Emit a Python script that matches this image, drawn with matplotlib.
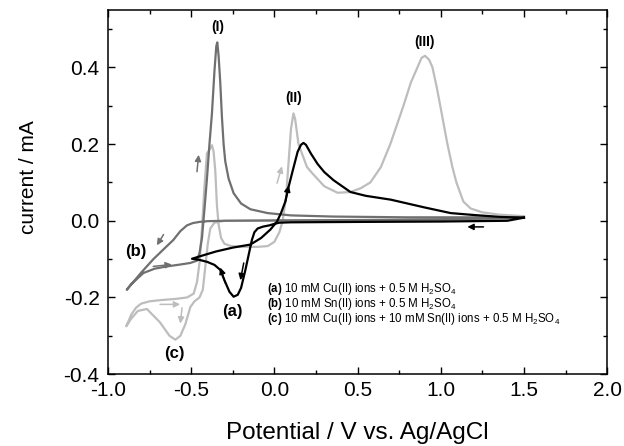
import matplotlib
matplotlib.use("Agg")
import matplotlib.pyplot as plt
from matplotlib.ticker import MultipleLocator

plt.rcParams["font.family"] = ["Liberation Sans", "DejaVu Sans"]
plt.rcParams["mathtext.fontset"] = "custom"
plt.rcParams["mathtext.rm"] = "Liberation Sans"
plt.rcParams["mathtext.bf"] = "Liberation Sans:bold"
plt.rcParams["axes.unicode_minus"] = False

# (a) Cu(II) only -- black loop, forward sweep from 1.5 V then back
cu_x = [1.5, 1.4, 1.0, 0.5, 0.1, 0.03, 0.0, -0.03, -0.066, -0.1, -0.12, -0.135,
        -0.15, -0.175, -0.2, -0.22, -0.245, -0.27, -0.3, -0.325, -0.36, -0.405,
        -0.45, -0.495,
        -0.45, -0.35, -0.25, -0.144, -0.08, -0.024, 0.016, 0.04, 0.066, 0.086,
        0.11, 0.14, 0.16, 0.175, 0.19, 0.22, 0.26, 0.3, 0.355, 0.457, 0.55, 0.7,
        0.9, 1.06, 1.2, 1.36, 1.5]
cu_y = [0.008, 0.0, -0.002, -0.003, -0.004, -0.005, -0.008, -0.012, -0.015,
        -0.02, -0.03, -0.05, -0.08, -0.13, -0.175, -0.193, -0.198, -0.185,
        -0.155, -0.128, -0.115, -0.107, -0.102, -0.099,
        -0.093, -0.08, -0.07, -0.062, -0.045, -0.023, -0.002, 0.02, 0.05, 0.089,
        0.13, 0.18, 0.198, 0.203, 0.198, 0.175, 0.148, 0.127, 0.106, 0.075,
        0.065, 0.055, 0.035, 0.02, 0.015, 0.01, 0.008]

# (b) Sn(II) only -- dark grey loop
sn_x = [1.5, 1.0, 0.5, 0.0, -0.3, -0.4, -0.45, -0.49, -0.525, -0.565, -0.607,
        -0.66, -0.727, -0.8, -0.887,
        -0.86, -0.786, -0.72, -0.646, -0.58, -0.505, -0.465, -0.45, -0.435,
        -0.42, -0.405, -0.39, -0.375, -0.36, -0.349, -0.343, -0.335, -0.325,
        -0.315, -0.305, -0.295, -0.275, -0.245, -0.2, -0.144, -0.04, 0.1, 0.35,
        0.8, 1.2, 1.5]
sn_y = [0.008, 0.003, 0.002, 0.001, 0.0, -0.001, -0.003, -0.006, -0.012,
        -0.027, -0.05, -0.072, -0.1, -0.135, -0.18,
        -0.165, -0.136, -0.125, -0.119, -0.115, -0.11, -0.104, -0.085, -0.045,
        0.03, 0.11, 0.2, 0.28, 0.39, 0.455, 0.465, 0.43, 0.36, 0.27, 0.2,
        0.155, 0.11, 0.072, 0.045, 0.03, 0.02, 0.014, 0.011, 0.009, 0.009,
        0.009]

# (c) Cu(II) + Sn(II) -- light grey loop
cusn_x = [1.5, 1.4, 1.0, 0.5, 0.0, -0.3, -0.36, -0.385, -0.4, -0.415, -0.43,
          -0.45, -0.48, -0.505, -0.535, -0.565, -0.595, -0.63, -0.687, -0.766,
          -0.82, -0.86, -0.89,
          -0.86, -0.83, -0.8, -0.75, -0.687, -0.6, -0.525, -0.485, -0.465,
          -0.45, -0.435, -0.42, -0.405, -0.39, -0.375, -0.365, -0.355, -0.345,
          -0.335, -0.32, -0.3, -0.26, -0.19, -0.1, -0.04, 0.0, 0.03, 0.05,
          0.07, 0.085, 0.1, 0.115, 0.125, 0.145, 0.196, 0.236, 0.3, 0.38,
          0.457, 0.52, 0.577, 0.64, 0.697, 0.776, 0.82, 0.86, 0.885, 0.906,
          0.93, 0.95, 0.975, 0.997, 1.04, 1.07, 1.094, 1.136, 1.18, 1.25, 1.35,
          1.5]
cusn_y = [0.01, 0.004, 0.002, 0.001, 0.0, 0.0, -0.005, -0.02, -0.06, -0.12,
          -0.18, -0.2, -0.21, -0.225, -0.27, -0.3, -0.31, -0.3, -0.265, -0.23,
          -0.235, -0.255, -0.275,
          -0.245, -0.226, -0.216, -0.21, -0.207, -0.204, -0.2, -0.19, -0.16,
          -0.11, -0.02, 0.09, 0.176, 0.185, 0.197, 0.18, 0.13, 0.04, -0.01,
          -0.045, -0.06, -0.066, -0.068, -0.068, -0.066, -0.055, -0.03, 0.0,
          0.06, 0.15, 0.24, 0.28, 0.265, 0.2, 0.14, 0.12, 0.09, 0.073, 0.075,
          0.085, 0.1, 0.14, 0.2, 0.3, 0.36, 0.4, 0.425, 0.43, 0.42, 0.4, 0.35,
          0.3, 0.2, 0.14, 0.1, 0.05, 0.032, 0.022, 0.016, 0.012]

c_cu, c_sn, c_cusn = "#000000", "#707070", "#bdbdbd"

# sweep-direction arrows: (tail, head, colour)
arrows = [
    ((0.066, 0.05), (0.086, 0.092), c_cu),
    ((-0.184, -0.11), (-0.204, -0.155), c_cu),
    ((-0.295, -0.162), (-0.325, -0.122), c_cu),
    ((1.257, -0.016), (1.16, -0.016), c_cu),
    ((-0.465, 0.128), (-0.455, 0.172), c_sn),
    ((-0.666, -0.036), (-0.706, -0.064), c_sn),
    ((-0.728, -0.119), (-0.616, -0.114), c_sn),
    ((0.016, 0.098), (0.046, 0.142), c_cusn),
    ((-0.687, -0.218), (-0.566, -0.218), c_cusn),
    ((-0.555, -0.227), (-0.565, -0.268), c_cusn),
]

fig = plt.figure(figsize=(6.24, 4.46), dpi=100)
ax = fig.add_axes([0.173, 0.161, 0.8, 0.817])

ax.plot(cusn_x, cusn_y, color=c_cusn, lw=1.6)
ax.plot(sn_x, sn_y, color=c_sn, lw=1.6)
ax.plot(cu_x, cu_y, color=c_cu, lw=1.6)

for tail, head, col in arrows:
    ax.annotate("", xy=head, xytext=tail,
                arrowprops=dict(arrowstyle="-|>", color=col, lw=1.1,
                                mutation_scale=9, shrinkA=0, shrinkB=0))

for txt, x, y in [("(I)", -0.343, 0.505), ("(II)", 0.115, 0.32),
                  ("(III)", 0.9, 0.465)]:
    ax.text(x, y, txt, ha="center", va="center", fontsize=10, fontweight="bold")
for txt, x, y in [("(a)", -0.25, -0.237), ("(b)", -0.83, -0.08),
                  ("(c)", -0.6, -0.345)]:
    ax.text(x, y, txt, ha="center", va="center", fontsize=12, fontweight="bold")

legend_lines = [
    r"$\mathbf{(a)}$ 10 mM Cu(II) ions + 0.5 M H$_2$SO$_4$",
    r"$\mathbf{(b)}$ 10 mM Sn(II) ions + 0.5 M H$_2$SO$_4$",
    r"$\mathbf{(c)}$ 10 mM Cu(II) ions + 10 mM Sn(II) ions + 0.5 M H$_2$SO$_4$",
]
for i, s in enumerate(legend_lines):
    ax.text(-0.045, -0.178 - 0.039 * i, s, ha="left", va="center", fontsize=8.3)

ax.set_xlim(-1.0, 2.0)
ax.set_ylim(-0.4, 0.55)
ax.set_xticks([-1.0, -0.5, 0.0, 0.5, 1.0, 1.5, 2.0])
ax.set_yticks([-0.4, -0.2, 0.0, 0.2, 0.4])
ax.xaxis.set_minor_locator(MultipleLocator(0.25))
ax.yaxis.set_minor_locator(MultipleLocator(0.1))
ax.tick_params(which="both", direction="in", top=True, right=True, width=1.0)
ax.tick_params(which="major", length=5, labelsize=15)
ax.tick_params(axis="x", which="major", pad=5)
ax.tick_params(axis="y", which="major", pad=6)
ax.tick_params(which="minor", length=3)
for sp in ax.spines.values():
    sp.set_linewidth(1.1)

ax.set_xlabel("Potential / V vs. Ag/AgCl", fontsize=17.5)
ax.set_ylabel("current / mA", fontsize=15)
ax.xaxis.set_label_coords(0.5, -0.13)
ax.yaxis.set_label_coords(-0.14, 0.54)

fig.savefig("out.png", dpi=100)
plt.close(fig)
